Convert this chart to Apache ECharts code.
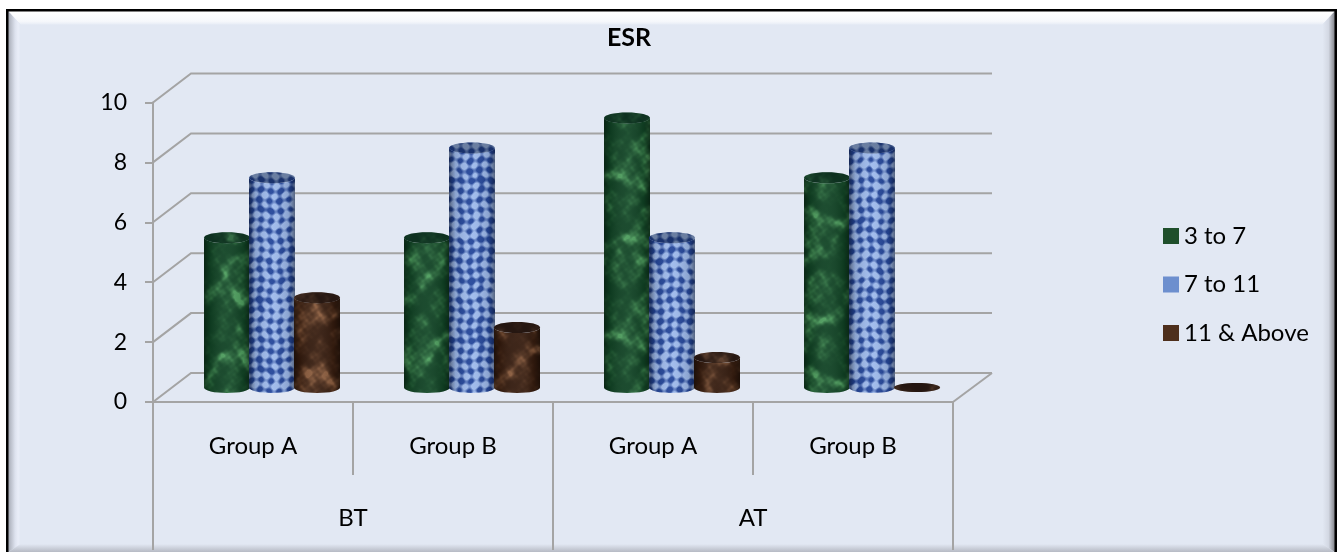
<!DOCTYPE html>
<html><head><meta charset="utf-8">
<style>html,body{margin:0;padding:0;background:#fff}#c{width:1341px;height:552px}</style>
<script src="https://cdn.jsdelivr.net/npm/echarts@6/dist/echarts.min.js"></script>
</head><body><div id="c"></div>
<script>
const groupLabels = ['Group A','Group B','Group A','Group B'];
const periodLabels = ['BT','AT'];
const yTicks = [0,2,4,6,8,10];
const seriesNames = ['3 to 7','7 to 11','11 & Above'];
const low = [5,5,9,7];
const mid = [7,8,5,8];
const high = [3,2,1,0];

const FONT='Lato';
const DX=38,DY=29;
// Procedural surface textures (purely decorative, independent of the data)
const waves=[[1,2,0.3,1],[3,-1,1.7,.9],[2,5,4.1,.7],[-5,3,2.2,.6],[7,4,.9,.45],[-4,9,3.3,.4],[11,-6,5.2,.3],[9,13,1.1,.28],[-15,7,2.6,.24],[19,11,4.4,.2],[-13,23,.5,.18],[29,-17,3.7,.15],[23,31,2.9,.13]];
function cloud(x,y,S,seed){
  const t=2*Math.PI/S;let n=0,a=0;
  const wx=1.2*Math.sin(t*(2*x-3*y)+seed),wy=1.2*Math.sin(t*(3*x+2*y)+2*seed);
  for(const w of waves){n+=w[3]*Math.sin(t*(w[0]*x+w[1]*y)+w[2]+seed*w[0]+(w[3]>.4?wx+wy:0));a+=w[3];}
  return 0.5+0.5*n/(a*0.55);
}
const clamp=v=>Math.max(0,Math.min(1,v));
function tex(kind){
  const S=160,c=document.createElement('canvas');c.width=c.height=S;
  const g=c.getContext('2d'),im=g.createImageData(S,S);
  const t=2*Math.PI/S;
  for(let y=0;y<S;y++)for(let x=0;x<S;x++){
    let r,gg,b;
    if(kind===0){
      let v=clamp(cloud(x,y,S,1.3));v=v*v*v;
      r=16+62*v;gg=66+92*v;b=36+58*v;
    }else if(kind===1){
      const f=t*16;
      const nx=x+1.2*Math.sin(t*(5*y)),ny=y+1.2*Math.sin(t*(5*x)+1);
      const d=Math.cos(f*nx)+Math.cos(f*ny);
      const n=cloud(x,y,S,0.6);
      let v=clamp((d+0.7+(n-.5)*1.4)/1.8);
      r=158-122*v;gg=186-116*v;b=236-82*v;
    }else{
      let v=clamp(cloud(x,y,S,2.4));v=v*v*v;
      r=52+88*v;gg=27+66*v;b=14+48*v;
    }
    const i=(y*S+x)*4;im.data[i]=r;im.data[i+1]=gg;im.data[i+2]=b;im.data[i+3]=255;
  }
  g.putImageData(im,0,0);return c;
}
const textures=[tex(0),tex(1),tex(2)];
const legendColors=['#1f4f2b','#6d8fce','#4e2f1c'];
const offsets=[-0.225,0,0.225];

function cylinder(idx){
  return function(params,api){
    const p=api.coord([api.value(0),api.value(1)]);
    const p0=api.coord([api.value(0),0]);
    const band=api.size([1,0])[0];
    const cx=p[0]+offsets[idx]*band+DX/2, rx=band*0.115, ry=5.5;
    const yt=p[1]-DY/2, yb=p0[1]-DY/2;
    const body=`M${cx-rx} ${yt}L${cx-rx} ${yb}A${rx} ${ry} 0 0 0 ${cx+rx} ${yb}L${cx+rx} ${yt}A${rx} ${ry} 0 0 1 ${cx-rx} ${yt}Z`;
    const kids=[];
    const flat=yb-yt<=0.5;
    if(!flat){
      kids.push({type:'path',shape:{pathData:body},style:{fill:{image:textures[idx],repeat:'repeat'}}});
      kids.push({type:'path',shape:{pathData:body},style:{fill:{type:'linear',x:0,y:0,x2:1,y2:0,colorStops:[
        {offset:0,color:'rgba(0,0,0,0.45)'},{offset:0.14,color:'rgba(0,0,0,0.12)'},{offset:0.5,color:'rgba(255,255,255,0.05)'},{offset:0.86,color:'rgba(0,0,0,0.12)'},{offset:1,color:'rgba(0,0,0,0.45)'}]}}});
    }
    const e={cx:cx,cy:yt,rx:rx,ry:flat?ry-1:ry};
    kids.push({type:'ellipse',shape:e,style:{fill:{image:textures[idx],repeat:'repeat'}}});
    kids.push({type:'ellipse',shape:e,style:{fill:'rgba(8,14,24,0.35)'}});
    return {type:'group',children:kids};
  };
}
function wall(params,api){
  const cs=params.coordSys,v=api.value(1);
  const y=api.coord([0,v])[1],x0=cs.x,x1=cs.x+cs.width;
  const st={stroke:'#a4a4a4',lineWidth:2,fill:'none'};
  const kids=[{type:'polyline',shape:{points:[[x0,y],[x0+DX,y-DY],[x1+DX+1,y-DY]]},style:st}];
  if(v===0)kids.push({type:'line',shape:{x1:x1,y1:y,x2:x1+DX+1,y2:y-DY},style:st});
  return {type:'group',children:kids};
}
const W=1341,H=552,FL=7.5,FR=1335.5,FT=10.5,FB=560,B=13,BB=544;
const bg='#e2e8f3';
const frame=[
 {type:'rect',shape:{x:0,y:0,width:W,height:H},style:{fill:'#fff'}},
 {type:'rect',shape:{x:FL,y:FT,width:FR-FL,height:FB-FT},style:{fill:bg,stroke:'#000',lineWidth:3}},
 {type:'polygon',shape:{points:[[FL+1,FT+1],[FR-1,FT+1],[FR-B,FT+B+1],[FL+B,FT+B+1]]},style:{fill:{type:'linear',x:0,y:0,x2:0,y2:1,colorStops:[{offset:0,color:'#ffffff'},{offset:0.75,color:'#f6f8fb'},{offset:1,color:'#e8edf6'}]}}},
 {type:'polygon',shape:{points:[[FL+1,FT+1],[FL+B,FT+B+1],[FL+B,BB],[FL+1,H]]},style:{fill:{type:'linear',x:0,y:0,x2:1,y2:0,colorStops:[{offset:0,color:'#a9adb8'},{offset:0.55,color:'#dde2ee'},{offset:0.8,color:'#e9edf8'},{offset:1,color:bg}]}}},
 {type:'polygon',shape:{points:[[FR-1,FT+1],[FR-B,FT+B+1],[FR-B,BB],[FR-1,H]]},style:{fill:{type:'linear',x:0,y:0,x2:1,y2:0,colorStops:[{offset:0,color:bg},{offset:0.5,color:'#d3d8e3'},{offset:1,color:'#85878d'}]}}},
 {type:'polygon',shape:{points:[[FL+1,H],[FL+B,BB],[FR-B,BB],[FR-1,H]]},style:{fill:{type:'linear',x:0,y:0,x2:0,y2:1,colorStops:[{offset:0,color:bg},{offset:1,color:'#b6bac4'}]}}}
];
frame.forEach(f=>f.silent=true);

const customSeries=[low,mid,high].map((arr,i)=>({
  name:seriesNames[i],type:'custom',coordinateSystem:'cartesian2d',xAxisIndex:0,yAxisIndex:0,z:3+i,
  renderItem:cylinder(i),
  itemStyle:{color:legendColors[i]},
  encode:{x:0,y:1},
  data:arr.map((v,k)=>[k,v])
}));
const chart=echarts.init(document.getElementById('c'),null,{renderer:'canvas'});
chart.setOption({
  animation:false,
  backgroundColor:'transparent',
  title:{text:'ESR',left:624,top:20,textAlign:'center',textStyle:{fontFamily:FONT,fontWeight:'bold',fontSize:25,color:'#000'}},
  legend:{orient:'vertical',left:1158,top:219,itemWidth:16,itemHeight:16,itemGap:24.5,icon:'rect',
    data:seriesNames,selectedMode:false,textStyle:{fontFamily:FONT,fontSize:24,color:'#000',padding:[0,0,0,0]}},
  grid:{left:153,right:388,top:102.5,bottom:150,containLabel:false},
  graphic:{elements:frame.map(f=>Object.assign({z:-100},f))},
  xAxis:[
    {type:'category',data:groupLabels,position:'bottom',
     axisLine:{show:true,onZero:false,lineStyle:{color:'#a4a4a4',width:2}},
     axisTick:{show:true,length:73,lineStyle:{color:'#a4a4a4',width:2}},
     axisLabel:{margin:32,fontFamily:FONT,fontSize:24,color:'#000'},splitLine:{show:false}},
    {type:'category',data:periodLabels,position:'bottom',offset:0,
     axisLine:{show:false},
     axisTick:{show:true,length:148,lineStyle:{color:'#a4a4a4',width:2}},
     axisLabel:{margin:104,fontFamily:FONT,fontSize:24,color:'#000'},splitLine:{show:false}}
  ],
  yAxis:{type:'value',min:0,max:10,interval:2,
    axisLine:{show:true,lineStyle:{color:'#a4a4a4',width:2}},
    axisTick:{show:true,length:8,lineStyle:{color:'#a4a4a4',width:2}},
    axisLabel:{margin:26,fontFamily:FONT,fontSize:23,color:'#000'},splitLine:{show:false}},
  series:[{type:'custom',coordinateSystem:'cartesian2d',xAxisIndex:0,yAxisIndex:0,z:1,silent:true,legendHoverLink:false,
    renderItem:wall,encode:{x:0,y:1},data:yTicks.map(v=>[0,v])}].concat(customSeries)
});
</script></body></html>
